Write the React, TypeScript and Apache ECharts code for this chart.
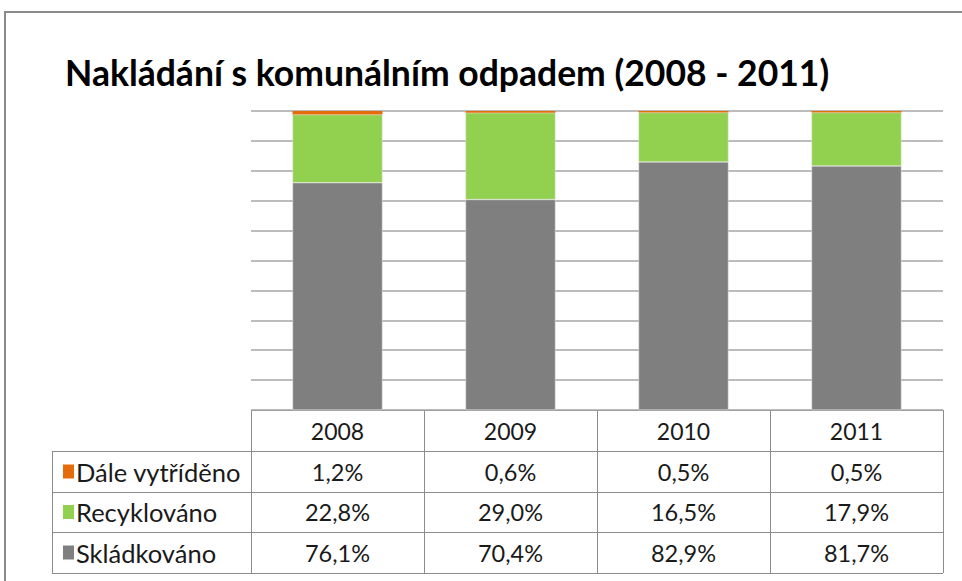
import React, { useEffect, useRef } from "react";
import * as echarts from "echarts";

const TITLE = "Nakládání s komunálním odpadem (2008 - 2011)";
const YEARS = ["2008", "2009", "2010", "2011"];
const SERIES_NAMES = ["Dále vytříděno", "Recyklováno", "Skládkováno"];
const DALE = [1.2, 0.6, 0.5, 0.5];
const RECYK = [22.8, 29.0, 16.5, 17.9];
const SKLAD = [76.1, 70.4, 82.9, 81.7];
const COLORS = ["#E46C0A", "#92D050", "#7F7F7F"];
const Y_TICKS = [0, 10, 20, 30, 40, 50, 60, 70, 80, 90, 100];

const W = 962;
const H = 581;
const GL = 251; // plot left
const GR = 943; // plot right
const GT = 111; // plot top
const GB = 410; // plot bottom
const ROWS = [410, 451, 492, 532, 573];
const TABLE_LEFT = 52;
const FONT = "Lato, 'Open Sans', sans-serif";

export default function App() {
  const ref = useRef<HTMLDivElement>(null);
  useEffect(() => {
    if (!ref.current) return;
    const chart = echarts.init(ref.current, undefined, { renderer: "svg" });
    const colW = (GR - GL) / YEARS.length;
    const fmt = (v: number) => v.toFixed(1).replace(".", ",") + "%";
    const totals = YEARS.map((_, i) => DALE[i] + RECYK[i] + SKLAD[i]);
    const norm = (arr: number[]) => arr.map((v, i) => (v / totals[i]) * 100);
    const lineStyle = { stroke: "#8c8c8c", lineWidth: 1 };
    const graphics: any[] = [];
    graphics.push({
      type: "rect",
      shape: { x: 5, y: 12, width: W + 20, height: H + 20 },
      style: { fill: "none", stroke: "#8a8a8a", lineWidth: 2 },
      silent: true,
    });
    ROWS.forEach((y, i) => {
      graphics.push({
        type: "line",
        shape: { x1: i === 0 ? GL : TABLE_LEFT, y1: y + 0.5, x2: GR, y2: y + 0.5 },
        style: lineStyle,
      });
    });
    graphics.push({
      type: "line",
      shape: { x1: TABLE_LEFT + 0.5, y1: ROWS[1], x2: TABLE_LEFT + 0.5, y2: ROWS[4] },
      style: lineStyle,
    });
    for (let i = 0; i <= YEARS.length; i++) {
      const x = GL + i * colW;
      graphics.push({
        type: "line",
        shape: { x1: x + 0.5, y1: ROWS[0], x2: x + 0.5, y2: ROWS[4] },
        style: lineStyle,
      });
    }
    YEARS.forEach((yr, i) => {
      graphics.push({
        type: "text",
        x: GL + (i + 0.5) * colW,
        y: (ROWS[0] + ROWS[1]) / 2,
        style: {
          text: yr,
          fill: "#1a1a1a",
          font: `23px ${FONT}`,
          align: "center",
          verticalAlign: "middle",
        },
      });
    });
    const data = [DALE, RECYK, SKLAD];
    data.forEach((arr, r) => {
      const yc = (ROWS[r + 1] + ROWS[r + 2]) / 2;
      graphics.push({
        type: "rect",
        shape: { x: 63, y: yc - 7, width: 11, height: 14 },
        style: { fill: COLORS[r] },
      });
      graphics.push({
        type: "text",
        x: 76,
        y: yc,
        style: {
          text: SERIES_NAMES[r],
          fill: "#1a1a1a",
          font: `25.5px ${FONT}`,
          align: "left",
          verticalAlign: "middle",
        },
      });
      arr.forEach((v, i) => {
        graphics.push({
          type: "text",
          x: GL + (i + 0.5) * colW,
          y: yc,
          style: {
            text: fmt(v),
            fill: "#1a1a1a",
            font: `23.5px ${FONT}`,
            align: "center",
            verticalAlign: "middle",
          },
        });
      });
    });

    chart.setOption({
      animation: false,
      backgroundColor: "#ffffff",
      title: {
        text: TITLE,
        left: 60,
        top: 49,
        textStyle: {
          fontFamily: FONT,
          fontSize: 35.5,
          fontWeight: "bold",
          color: "#000000",
        },
      },
      grid: { left: GL, right: W - GR, top: GT, bottom: H - GB },
      xAxis: {
        type: "category",
        data: YEARS,
        axisLine: { show: false },
        axisTick: { show: false },
        axisLabel: { show: false },
      },
      yAxis: {
        type: "value",
        min: Y_TICKS[0],
        max: Y_TICKS[Y_TICKS.length - 1],
        interval: Y_TICKS[1] - Y_TICKS[0],
        axisLabel: { show: false },
        axisLine: { show: false },
        axisTick: { show: false },
        splitLine: { lineStyle: { color: "#a6a6a6", width: 1.5 } },
      },
      series: [
        { name: SERIES_NAMES[2], data: norm(SKLAD), idx: 2 },
        { name: SERIES_NAMES[1], data: norm(RECYK), idx: 1 },
        { name: SERIES_NAMES[0], data: norm(DALE), idx: 0 },
      ].map((s) => ({
        type: "bar",
        name: s.name,
        stack: "total",
        data: s.data,
        barWidth: "52%",
        itemStyle:
          s.idx === 0
            ? { color: COLORS[s.idx] }
            : { color: COLORS[s.idx], borderColor: "#e6e6e6", borderWidth: 0.5 },
      })),
      graphic: graphics,
    });
    return () => chart.dispose();
  }, []);
  return <div ref={ref} style={{ width: W, height: H, position: "absolute", left: 0, top: 0 }} />;
}
